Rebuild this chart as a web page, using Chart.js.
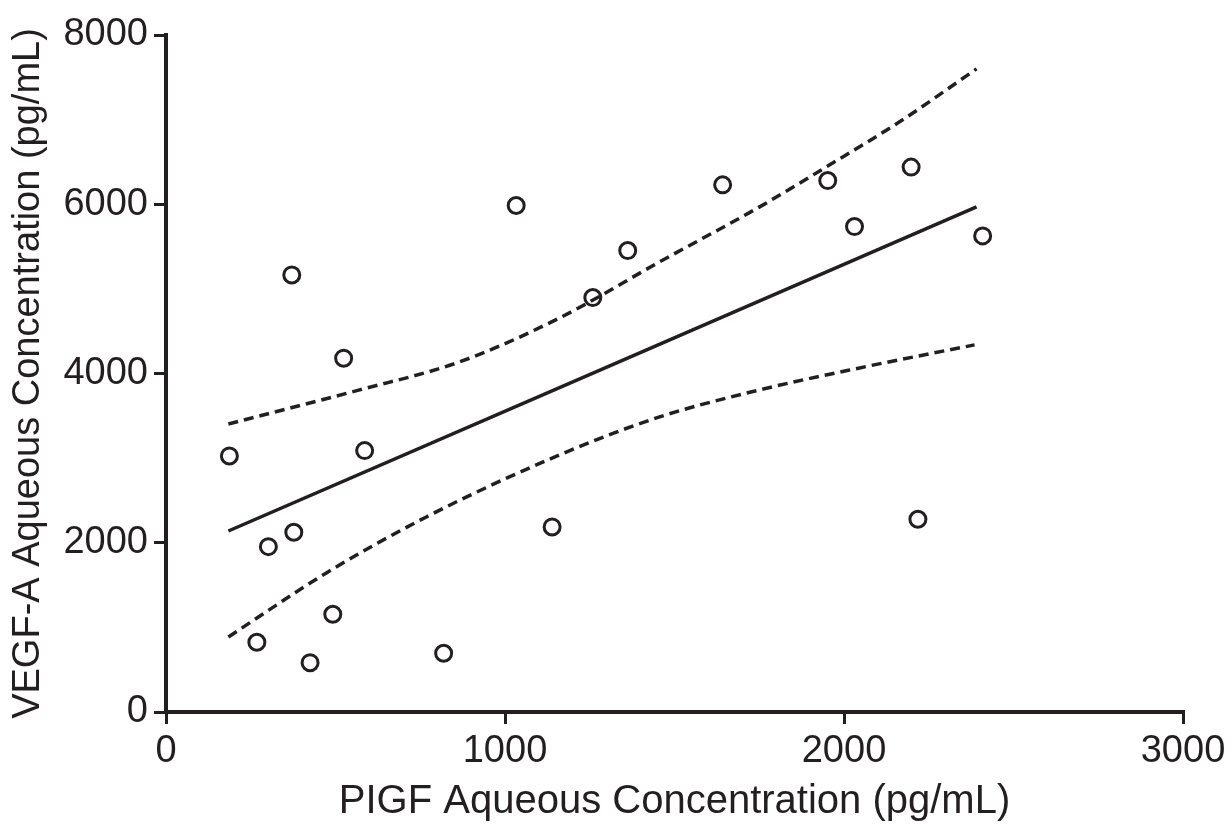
<!DOCTYPE html>
<html>
<head>
<meta charset="utf-8">
<script src="https://cdn.jsdelivr.net/npm/chart.js@4/dist/chart.umd.min.js"></script>
<style>
  html, body { margin: 0; padding: 0; background: #fff; }
  #wrap { width: 1231px; height: 826px; position: relative; }
</style>
</head>
<body>
<div id="wrap"><canvas id="chart"></canvas></div>
<script>
// PlGF (x) vs VEGF-A (y), pg/mL
const plgf = [187, 268, 302, 371, 377, 425, 492, 524, 586, 819, 1033, 1139, 1259, 1362, 1642, 1952, 2031, 2198, 2218, 2409];
const vegf = [3026, 824, 1954, 5165, 2124, 583, 1155, 4181, 3089, 694, 5985, 2187, 4897, 5453, 6229, 6280, 5736, 6439, 2278, 5626];

// fitted line and 95% confidence band
const fitX = [184, 2391];
const fitY = [2139, 5969];
const upperX = [184, 571, 866, 1161, 1456, 1751, 1948, 2164, 2391];
const upperY = [3404, 3806, 4137, 4657, 5319, 5969, 6442, 6974, 7600];
const lowerX = [184, 473, 768, 1161, 1456, 1751, 2046, 2385];
const lowerY = [887, 1643, 2305, 3038, 3487, 3806, 4066, 4338];

const xTicks = [0, 1000, 2000, 3000];
const yTicks = [0, 2000, 4000, 6000, 8000];

const ink = '#231f20';
const family = '"Liberation Sans", Arial, Helvetica, sans-serif';
const tickFont = { family, size: 38 };

const pairs = (xs, ys) => xs.map((x, i) => ({ x, y: ys[i] }));

const lineStyle = {
  type: 'line',
  borderColor: ink,
  borderWidth: 3.5,
  pointRadius: 0,
  fill: false,
  cubicInterpolationMode: 'monotone',
};

const data = {
  datasets: [
    {
      type: 'scatter',
      data: pairs(plgf, vegf),
      pointRadius: 8,
      pointBorderWidth: 3,
      pointBorderColor: ink,
      pointBackgroundColor: 'rgba(0,0,0,0)',
    },
    { ...lineStyle, data: pairs(fitX, fitY) },
    { ...lineStyle, data: pairs(upperX, upperY), borderDash: [10, 6] },
    { ...lineStyle, data: pairs(lowerX, lowerY), borderDash: [10, 6] },
  ],
};

const options = {
  responsive: true,
  maintainAspectRatio: false,
  animation: false,
  layout: { padding: { top: 35, right: 48, bottom: 0, left: 0 } },
  plugins: { legend: { display: false }, tooltip: { enabled: false } },
  scales: {
    x: {
      type: 'linear',
      min: 0,
      max: 3000,
      afterBuildTicks: (s) => { s.ticks = xTicks.map((v) => ({ value: v })); },
      afterFit: (s) => { s.height = 114; },
      border: { display: true, color: ink, width: 4 },
      grid: { display: true, drawOnChartArea: false, drawTicks: true, tickLength: 12, color: ink, lineWidth: 3 },
      ticks: { color: ink, font: tickFont, padding: 5, callback: (v) => String(v) },
      title: { display: true, text: 'PIGF Aqueous Concentration (pg/mL)', color: ink, font: { family, size: 40 }, padding: { top: 4, bottom: 0 } },
    },
    y: {
      type: 'linear',
      min: 0,
      max: 8000,
      afterBuildTicks: (s) => { s.ticks = yTicks.map((v) => ({ value: v })); },
      afterFit: (s) => { s.width = 166; },
      border: { display: true, color: ink, width: 4 },
      grid: { display: true, drawOnChartArea: false, drawTicks: true, tickLength: 12, color: ink, lineWidth: 3 },
      ticks: { color: ink, font: tickFont, padding: 6, callback: (v) => String(v) },
      title: { display: true, text: 'VEGF-A Aqueous Concentration (pg/mL)', color: ink, font: { family, size: 38 }, padding: { top: 6, bottom: 0 } },
    },
  },
};

new Chart(document.getElementById('chart'), { data, options });
</script>
</body>
</html>
